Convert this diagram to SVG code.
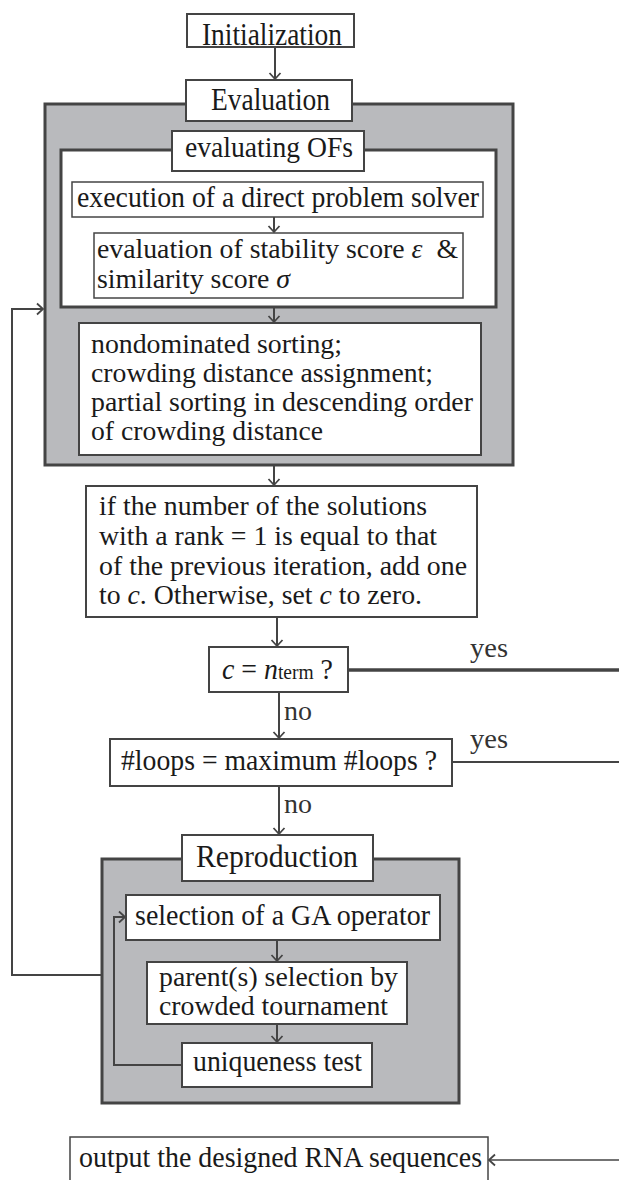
<svg xmlns="http://www.w3.org/2000/svg" width="619" height="1180" viewBox="0 0 619 1180" font-family="'Liberation Serif', 'Times New Roman', Times, serif">
<style>
.box{fill:#fff;stroke:#444;stroke-width:2}
.thin{fill:#fff;stroke:#444;stroke-width:1.5}
.gray{fill:#b9babd;stroke:#444;stroke-width:3}
.thick{fill:#fff;stroke:#444;stroke-width:3}
text{font-family:'Liberation Serif', 'Times New Roman', Times, serif;fill:#1a1a1a}
.t{font-size:30px}
.m{font-size:28px}
.s{font-size:27px}
.h{font-size:32px}
.lbl{font-size:27px;fill:#333}
.c{fill:none;stroke:#444;stroke-width:2}
</style>
<defs>
<marker id="arr" markerUnits="userSpaceOnUse" markerWidth="14" markerHeight="14" refX="7" refY="7" orient="auto">
<path d="M1,1.5 L7,7 L1,12.5" fill="none" stroke="#444" stroke-width="1.8"/>
</marker>
</defs>
<rect width="619" height="1180" fill="#fff"/>

<g id="evaluation-group">
<rect class="gray" x="45" y="104" width="468" height="361"/>
<rect class="thick" x="61" y="150" width="435" height="157"/>
</g>
<g id="reproduction-group">
<rect class="gray" x="102" y="859" width="357" height="244"/>
</g>

<g id="connectors">
<line class="c" x1="275" y1="47" x2="275" y2="79" marker-end="url(#arr)"/>
<line class="c" x1="274" y1="217" x2="274" y2="232" marker-end="url(#arr)"/>
<line class="c" x1="274" y1="308" x2="274" y2="322" marker-end="url(#arr)"/>
<line class="c" x1="274" y1="466" x2="274" y2="485" marker-end="url(#arr)"/>
<line class="c" x1="277" y1="617" x2="277" y2="646" marker-end="url(#arr)"/>
<line class="c" x1="279" y1="692" x2="279" y2="738" marker-end="url(#arr)"/>
<line class="c" x1="279" y1="786" x2="279" y2="834" marker-end="url(#arr)"/>
<line class="c" x1="277" y1="940" x2="277" y2="961" marker-end="url(#arr)"/>
<line class="c" x1="277" y1="1024" x2="277" y2="1042" marker-end="url(#arr)"/>
<polyline class="c" points="182,1065 114,1065 114,917 125,917" marker-end="url(#arr)"/>
<polyline class="c" points="102,975 12,975 12,309 43,309" marker-end="url(#arr)"/>
<line x1="348" y1="670" x2="619" y2="670" stroke="#444" stroke-width="3.5"/>
<line x1="452" y1="762" x2="619" y2="762" stroke="#444" stroke-width="2"/>
<line x1="619" y1="1160" x2="489" y2="1160" stroke="#444" stroke-width="1.5" marker-end="url(#arr)"/>
<text class="lbl" x="470" y="657" textLength="38" lengthAdjust="spacingAndGlyphs">yes</text>
<text class="lbl" x="470" y="748" textLength="38" lengthAdjust="spacingAndGlyphs">yes</text>
<text class="lbl" x="284" y="720" textLength="28" lengthAdjust="spacingAndGlyphs">no</text>
<text class="lbl" x="284" y="813" textLength="28" lengthAdjust="spacingAndGlyphs">no</text>
</g>

<g id="initialization">
<rect class="box" x="187" y="14" width="167" height="33"/>
<text class="h" x="202" y="45" textLength="140" lengthAdjust="spacingAndGlyphs">Initialization</text>
</g>
<g id="evaluation">
<rect class="box" x="186" y="80" width="166" height="41"/>
<text class="h" x="211" y="110" textLength="119" lengthAdjust="spacingAndGlyphs">Evaluation</text>
</g>
<g id="evaluating-ofs">
<rect class="box" x="172" y="131" width="192" height="40"/>
<text class="t" x="185" y="157" textLength="168" lengthAdjust="spacingAndGlyphs">evaluating OFs</text>
</g>
<g id="execution">
<rect class="thin" x="72" y="182" width="411" height="35"/>
<text class="t" x="77" y="207" textLength="402" lengthAdjust="spacingAndGlyphs">execution of a direct problem solver</text>
</g>
<g id="scores">
<rect class="thin" x="94" y="233" width="369" height="65"/>
<text class="s" x="97" y="258" textLength="361" lengthAdjust="spacingAndGlyphs">evaluation of stability score <tspan font-style="italic">ε</tspan>&#160; &amp;</text>
<text class="s" x="97" y="288" textLength="193" lengthAdjust="spacingAndGlyphs">similarity score <tspan font-style="italic">σ</tspan></text>
</g>
<g id="sorting">
<rect class="box" x="79" y="323" width="402" height="132"/>
<text class="m" x="91" y="353" textLength="251" lengthAdjust="spacingAndGlyphs">nondominated sorting;</text>
<text class="m" x="91" y="382" textLength="342" lengthAdjust="spacingAndGlyphs">crowding distance assignment;</text>
<text class="m" x="91" y="411" textLength="382" lengthAdjust="spacingAndGlyphs">partial sorting in descending order</text>
<text class="m" x="91" y="440" textLength="232" lengthAdjust="spacingAndGlyphs">of crowding distance</text>
</g>
<g id="counter">
<rect class="box" x="86" y="486" width="391" height="131"/>
<text class="m" x="99" y="515" textLength="328" lengthAdjust="spacingAndGlyphs">if the number of the solutions</text>
<text class="m" x="99" y="545" textLength="338" lengthAdjust="spacingAndGlyphs">with a rank = 1 is equal to that</text>
<text class="m" x="99" y="575" textLength="368" lengthAdjust="spacingAndGlyphs">of the previous iteration, add one</text>
<text class="m" x="99" y="604" textLength="323" lengthAdjust="spacingAndGlyphs">to <tspan font-style="italic">c</tspan>. Otherwise, set <tspan font-style="italic">c</tspan> to zero.</text>
</g>
<g id="check-nterm">
<rect class="box" x="209" y="647" width="139" height="45"/>
<text class="t" x="222" y="679" textLength="111" lengthAdjust="spacingAndGlyphs"><tspan font-style="italic">c</tspan> = <tspan font-style="italic">n</tspan><tspan font-size="21">term</tspan> ?</text>
</g>
<g id="check-loops">
<rect class="box" x="110" y="739" width="342" height="47"/>
<text class="t" x="121" y="770" textLength="316" lengthAdjust="spacingAndGlyphs">#loops = maximum #loops ?</text>
</g>
<g id="reproduction">
<rect class="box" x="182" y="835" width="191" height="46"/>
<text class="h" x="196" y="867" textLength="162" lengthAdjust="spacingAndGlyphs">Reproduction</text>
</g>
<g id="selection">
<rect class="box" x="126" y="895" width="314" height="45"/>
<text class="t" x="135" y="925" textLength="295" lengthAdjust="spacingAndGlyphs">selection of a GA operator</text>
</g>
<g id="parents">
<rect class="box" x="147" y="962" width="260" height="62"/>
<text class="s" x="159" y="986" textLength="239" lengthAdjust="spacingAndGlyphs">parent(s) selection by</text>
<text class="s" x="159" y="1015" textLength="229" lengthAdjust="spacingAndGlyphs">crowded tournament</text>
</g>
<g id="uniqueness">
<rect class="box" x="182" y="1043" width="190" height="44"/>
<text class="t" x="193" y="1071" textLength="169" lengthAdjust="spacingAndGlyphs">uniqueness test</text>
</g>
<g id="output">
<rect class="thin" x="70" y="1137" width="418" height="60"/>
<text class="t" x="79" y="1167" textLength="403" lengthAdjust="spacingAndGlyphs">output the designed RNA sequences</text>
</g>
</svg>
